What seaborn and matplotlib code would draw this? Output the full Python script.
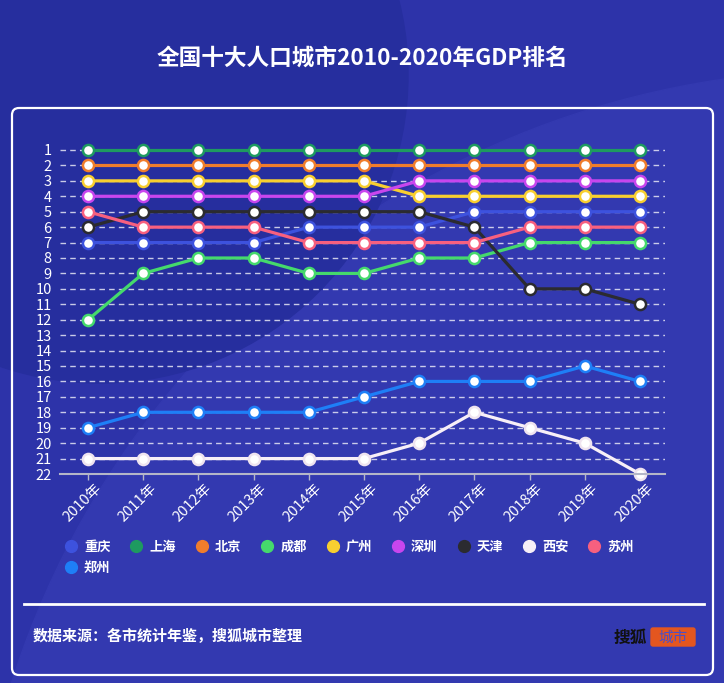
import numpy as np
import pandas as pd
import matplotlib
matplotlib.use("Agg")
import matplotlib.pyplot as plt
import matplotlib.transforms as mtransforms
from matplotlib.patches import Circle, FancyBboxPatch, Rectangle
from matplotlib.lines import Line2D
import seaborn as sns

plt.rcParams['font.family'] = ['Noto Sans CJK SC', 'DejaVu Sans']

# ---- data ----
years = ["2010年", "2011年", "2012年", "2013年", "2014年", "2015年",
         "2016年", "2017年", "2018年", "2019年", "2020年"]
cities = ["重庆", "上海", "北京", "成都", "广州", "深圳", "天津", "西安", "苏州", "郑州"]
chongqing = [7, 7, 7, 7, 6, 6, 6, 5, 5, 5, 5]
shanghai = [1, 1, 1, 1, 1, 1, 1, 1, 1, 1, 1]
beijing = [2, 2, 2, 2, 2, 2, 2, 2, 2, 2, 2]
chengdu = [12, 9, 8, 8, 9, 9, 8, 8, 7, 7, 7]
guangzhou = [3, 3, 3, 3, 3, 3, 4, 4, 4, 4, 4]
shenzhen = [4, 4, 4, 4, 4, 4, 3, 3, 3, 3, 3]
tianjin = [6, 5, 5, 5, 5, 5, 5, 6, 10, 10, 11]
xian = [21, 21, 21, 21, 21, 21, 20, 18, 19, 20, 22]
suzhou = [5, 6, 6, 6, 7, 7, 7, 7, 6, 6, 6]
zhengzhou = [19, 18, 18, 18, 18, 17, 16, 16, 16, 15, 16]
series = [chongqing, shanghai, beijing, chengdu, guangzhou, shenzhen,
          tianjin, xian, suzhou, zhengzhou]
colors = ["#3d52de", "#1e9a60", "#f07d2c", "#45d96c", "#f8cf30", "#c846ee",
          "#2b2b30", "#f7eff7", "#f7607f", "#1e7ff7"]
rank_ticks = list(range(1, 23))

title = "全国十大人口城市2010-2020年GDP排名"
source = "数据来源：各市统计年鉴，搜狐城市整理"

W, H = 724, 683
fig = plt.figure(figsize=(W / 100, H / 100), dpi=100)

# ---- background ----
bg = fig.add_axes([0, 0, 1, 1])
bg.set_xlim(0, W)
bg.set_ylim(H, 0)
bg.axis("off")
bg.add_patch(Rectangle((0, 0), W, H, color="#2d33a9", zorder=0))
bg.add_patch(Circle((850, 950), 880, color="#3339b0", zorder=1))
bg.add_patch(Circle((100, 75), 308, color="#262e9e", zorder=2))
bg.add_patch(FancyBboxPatch((12, 108), 701, 567,
                            boxstyle="round,pad=0,rounding_size=7",
                            fill=False, edgecolor="white", lw=1.6, zorder=3))
bg.plot([24, 704], [604, 604], color="white", lw=2, zorder=3)
bg.add_patch(FancyBboxPatch((651, 628), 44, 18,
                            boxstyle="round,pad=0,rounding_size=2",
                            color="#e4561f", zorder=3))
bg.text(673, 637.5, "城市", ha="center", va="center", fontsize=10.5,
        color="#4a4fc8", zorder=4)
bg.text(647, 637.5, "搜狐", ha="right", va="center", fontsize=12,
        color="#111111", weight="bold", zorder=4)

# ---- main axes ----
ax = fig.add_axes([60 / W, (H - 474) / H, 605 / W, (474 - 142) / H])
ax.set_facecolor("none")
x = np.arange(len(years))
for name, vals, c in zip(cities, series, colors):
    df = pd.DataFrame({"year": x, "rank": vals})
    ec = "#efe4ef" if name == "西安" else c
    sns.lineplot(data=df, x="year", y="rank", ax=ax, color=c, linewidth=2.3,
                 marker="o", markersize=8, markerfacecolor="white",
                 markeredgecolor=ec, markeredgewidth=1.8, legend=False,
                 clip_on=False)

ax.set_xlim(-28 / 55.2, 10 + 25 / 55.2)
ax.set_ylim(22, 1 - 8 / 15.4286)
ax.set_yticks(rank_ticks)
ax.set_yticklabels([str(r) for r in rank_ticks])
ax.set_xticks(x)
ax.set_xticklabels(years)
ax.set_xlabel("")
ax.set_ylabel("")
ax.grid(axis="y", color="white", alpha=0.75, linewidth=1.0,
        linestyle=(0, (4, 3)))
ax.grid(axis="x", visible=False)
ax.set_axisbelow(True)
for s in ["top", "right", "left"]:
    ax.spines[s].set_visible(False)
ax.spines["bottom"].set_color("#b4b6c8")
ax.spines["bottom"].set_linewidth(1.5)
ax.tick_params(axis="y", length=0, pad=6, labelsize=10.5, labelcolor="white")
ax.tick_params(axis="x", length=4, width=1, color="#b4b6c8", pad=3,
               labelsize=10.5, labelcolor="white")
offset = mtransforms.ScaledTranslation(11 / 100, -2 / 100, fig.dpi_scale_trans)
for lab in ax.get_xticklabels():
    lab.set_rotation(45)
    lab.set_ha("right")
    lab.set_va("center")
    lab.set_rotation_mode("anchor")
    lab.set_transform(lab.get_transform() + offset)

# ---- legend ----
handles = [Line2D([], [], marker="o", linestyle="none", markersize=8.5,
                  markerfacecolor=c, markeredgecolor=c) for c in colors]
order = [0, 9, 1, 2, 3, 4, 5, 6, 7, 8]
leg = fig.legend([handles[i] for i in order], [cities[i] for i in order],
                 ncol=9, loc="upper left",
                 bbox_to_anchor=(64.4 / W, 1 - 540 / H),
                 frameon=False, borderpad=0, borderaxespad=0,
                 handlelength=1.0, handletextpad=0.48, columnspacing=1.47,
                 labelspacing=0.5, prop={"size": 9.5, "weight": "bold"})
for t in leg.get_texts():
    t.set_color("white")

# ---- texts ----
fig.text(362 / W, 1 - 58 / H, title, ha="center", va="center", fontsize=16.3,
         weight="bold", color="white")
fig.text(33 / W, 1 - 636 / H, source, ha="left", va="center", fontsize=10.8,
         weight="bold", color="white")

fig.savefig("out.png", dpi=100)
